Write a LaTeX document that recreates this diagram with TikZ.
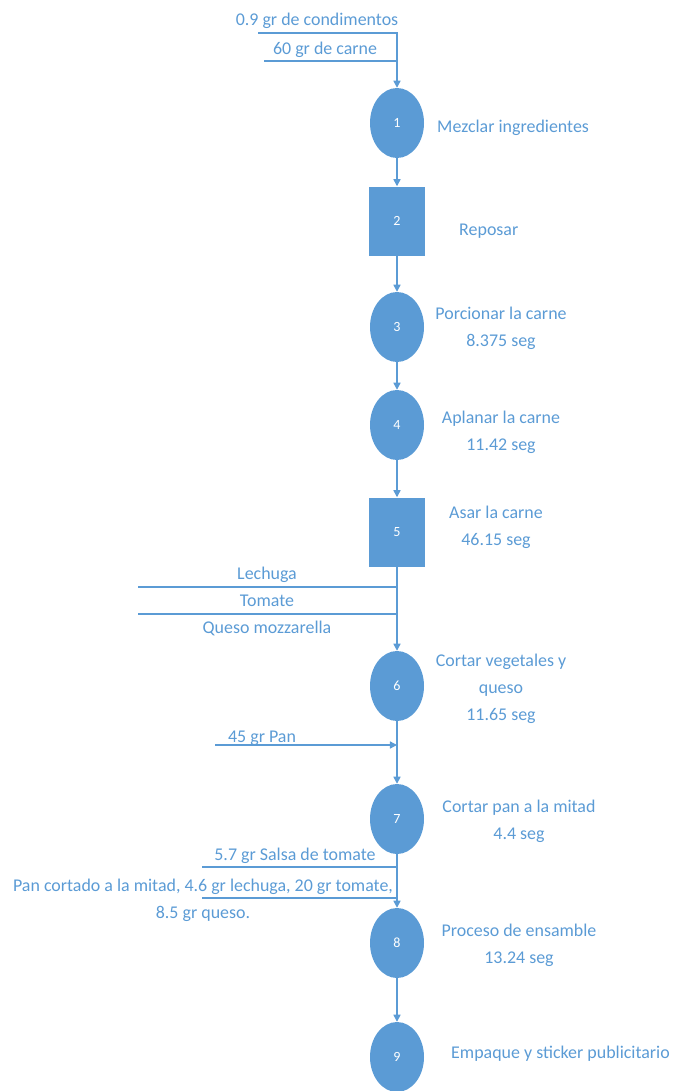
\documentclass[tikz,border=0pt]{standalone}
\usepackage{fontspec}
\setmainfont{Carlito}
\usetikzlibrary{arrows.meta,shapes.geometric}
\definecolor{opBlue}{RGB}{91,155,213}
\tikzset{
    >={Triangle[length=6pt,width=6pt]},
    every node/.append style={align=center},
    flow/.style={draw=opBlue,line width=1.2pt},
    op/.style={ellipse,fill=opBlue,inner sep=0pt,minimum width=1.62cm,minimum height=2.1cm,text=white,font=\fontsize{12}{14}\selectfont},
    wait/.style={rectangle,fill=opBlue,inner sep=0pt,minimum width=1.68cm,minimum height=2.07cm,text=white,font=\fontsize{12}{14}\selectfont},
    lbl/.style={text=opBlue,inner sep=0pt,font=\fontsize{15.3}{23}\selectfont},
}
\begin{document}
\begin{tikzpicture}[x=0.03cm,y=-0.03cm]
    \useasboundingbox (0,0) rectangle (673,1091);
    % operations
    \node[op] (op1) at (397,123) {1};
    \node[wait] (sq2) at (397,221) {2};
    \node[op] (op3) at (397,327) {3};
    \node[op] (op4) at (397,425) {4};
    \node[wait] (sq5) at (397,532) {5};
    \node[op] (op6) at (397,686) {6};
    \node[op] (op7) at (397,819) {7};
    \node[op] (op8) at (397,943) {8};
    \node[op] (op9) at (397,1057) {9};

    % descriptions
    \node[lbl,right] (d1) at (437,128) {Mezclar ingredientes};
    \node[lbl,right] (d2) at (459,231) {Reposar};
    \node[lbl] (d3) at (501,328) {Porcionar la carne\\8.375 seg};
    \node[lbl] (d4) at (501,432) {Aplanar la carne\\11.42 seg};
    \node[lbl] (d5) at (496,527) {Asar la carne\\46.15 seg};
    \node[lbl] (d6) at (501,689) {Cortar vegetales y\\queso\\11.65 seg};
    \node[lbl] (d7) at (519,821) {Cortar pan a la mitad\\4.4 seg};
    \node[lbl] (d8) at (519,945) {Proceso de ensamble\\13.24 seg};
    \node[lbl,right] (d9) at (451,1054) {Empaque y sticker publicitario};

    % inputs
    \coordinate (in1) at (258,33);
    \coordinate (in2) at (264,61);
    \node[lbl] (t1) at (317,21) {0.9 gr de condimentos};
    \node[lbl] (t2) at (325,50) {60 gr de carne};
    \draw[flow,->] (in1) -| (op1.north);
    \draw[flow] (in2) -- (in2 -| op1.north);

    \coordinate (in3) at (138,587);
    \coordinate (in4) at (138,614);
    \node[lbl] (t3) at (267,575) {Lechuga};
    \node[lbl] (t4) at (267,601) {Tomate};
    \node[lbl] (t5) at (267,628) {Queso mozzarella};
    \draw[flow] (in3) -- (in3 -| op6.north);
    \draw[flow] (in4) -- (in4 -| op6.north);

    \coordinate (in5) at (215,745);
    \node[lbl] (t6) at (262,738) {45 gr Pan};
    \draw[flow,->] (in5) -- (in5 -| op7.north);

    \coordinate (in6) at (202,867);
    \coordinate (in7) at (202,898);
    \node[lbl] (t7) at (295,856) {5.7 gr Salsa de tomate};
    \node[lbl] (t8) at (203,900) {Pan cortado a la mitad, 4.6 gr lechuga, 20 gr tomate,\\8.5 gr queso.};
    \draw[flow] (in6) -- (in6 -| op8.north);
    \draw[flow] (in7) -- (in7 -| op8.north);

    % main flow
    \draw[flow,->] (op1) -- (sq2);
    \draw[flow,->] (sq2) -- (op3);
    \draw[flow,->] (op3) -- (op4);
    \draw[flow,->] (op4) -- (sq5);
    \draw[flow,->] (sq5) -- (op6);
    \draw[flow,->] (op6) -- (op7);
    \draw[flow,->] (op7) -- (op8);
    \draw[flow,->] (op8) -- (op9);
\end{tikzpicture}
\end{document}
